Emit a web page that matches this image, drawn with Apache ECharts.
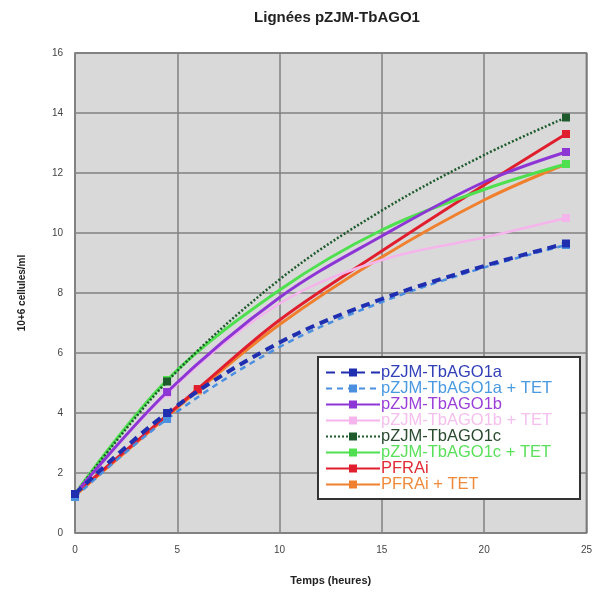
<!DOCTYPE html>
<html>
<head>
<meta charset="utf-8">
<script src="https://cdn.jsdelivr.net/npm/echarts@6/dist/echarts.min.js"></script>
<style>html,body{margin:0;padding:0;background:#fff}#c{width:595px;height:594px}</style>
</head>
<body>
<div id="c"></div>
<script>
const seriesNames = ["pZJM-TbAGO1a","pZJM-TbAGO1a + TET","pZJM-TbAGO1b","pZJM-TbAGO1b + TET","pZJM-TbAGO1c","pZJM-TbAGO1c + TET","PFRAi","PFRAi + TET"];
// [time (h), 10^6 cells/ml, measured?]
const dataA    = [[0,1.3,1],[4.5,4.0,1],[10,6.35,0],[15,7.8,0],[20,8.9,0],[24,9.65,1]];
const dataATet = [[0,1.2,1],[4.5,3.8,1],[10,6.2,0],[15,7.7,0],[20,8.85,0],[24,9.6,1]];
const dataB    = [[0,1.3,1],[4.5,4.7,1],[10,7.85,0],[15,9.9,0],[20,11.7,0],[24,12.7,1]];
const dataBTet = [[0,1.3,1],[4.5,4.65,1],[10,7.65,0],[15,9.1,0],[20,9.85,0],[24,10.5,1]];
const dataC    = [[0,1.3,1],[4.5,5.05,1],[10,8.45,0],[15,10.75,0],[20,12.6,0],[24,13.85,1]];
const dataCTet = [[0,1.3,1],[4.5,5.1,1],[10,8.1,0],[15,10.1,0],[20,11.45,0],[24,12.3,1]];
const dataP    = [[0,1.3,1],[6,4.8,1],[10,7.1,0],[15,9.4,0],[20,11.6,0],[24,13.3,1]];
const dataPTet = [[0,1.25,1],[6,4.75,1],[10,6.95,0],[15,9.2,0],[20,11.1,0],[24,12.3,1]];
const xTicks = [0,5,10,15,20,25];
const yTicks = [0,2,4,6,8,10,12,14,16];

const allData = [dataA,dataATet,dataB,dataBTet,dataC,dataCTet,dataP,dataPTet];
const colors = ['#1f2fb0','#4a8fe0','#8e35d6','#f5b5ec','#1d5a2c','#4fe04f','#e01e2e','#f0802e'];
const textColors = ['#3240b8','#4a9ae0','#9a40d8','#f5c0ee','#2a4a30','#5ae05a','#e02a35','#f08a3a'];
const lineTypes = [[9,6],[6,5],'solid','solid',[2,2],'solid','solid','solid'];
const widths = [4,2.5,3,2.5,2.5,3,3,3];

const series = allData.map((d,i)=>({
  name: seriesNames[i],
  type:'line',
  smooth:0.35,
  showAllSymbol:true,
  symbol:'rect',
  symbolSize:8,
  z: 10-i,
  data: d.map(p=>({value:[p[0],p[1]], symbol: p[2]?'rect':'none'})),
  lineStyle:{color:colors[i],width:widths[i],type:lineTypes[i]},
  itemStyle:{color:colors[i]},
  emphasis:{disabled:true}
}));

const chart = echarts.init(document.getElementById('c'),null,{renderer:'canvas'});
chart.setOption({
  animation:false,
  backgroundColor:'#fff',
  title:{text:'Lignées pZJM-TbAGO1',left:332,top:5,textAlign:'center',
    textStyle:{fontFamily:'Liberation Sans, Arial',fontWeight:'bold',fontSize:15,color:'#222'}},
  grid:{left:75,right:6,top:53,bottom:61,show:true,backgroundColor:'#d9d9d9',borderColor:'#666',borderWidth:1.5},
  xAxis:{type:'value',min:0,max:25,interval:5,
    name:'Temps (heures)',nameLocation:'middle',nameGap:42,
    nameTextStyle:{fontFamily:'Liberation Sans, Arial',fontWeight:'bold',fontSize:11,color:'#222'},
    axisLine:{show:false},axisTick:{show:false},
    axisLabel:{fontFamily:'Liberation Sans, Arial',fontSize:10,color:'#444',margin:12},
    splitLine:{lineStyle:{color:'#808080',width:1.5}}},
  yAxis:{type:'value',min:0,max:16,interval:2,
    name:'10+6 cellules/ml',nameLocation:'middle',nameGap:48,
    nameTextStyle:{fontFamily:'Liberation Sans, Arial',fontWeight:'bold',fontSize:10,color:'#222'},
    axisLine:{show:false},axisTick:{show:false},
    axisLabel:{fontFamily:'Liberation Sans, Arial',fontSize:10,color:'#444',margin:12},
    splitLine:{lineStyle:{color:'#808080',width:1.5}}},
  legend:{orient:'vertical',left:318,top:357,
    backgroundColor:'#fff',borderColor:'#333',borderWidth:2,padding:[7,28,6,7],
    itemWidth:54,itemHeight:10,itemGap:-1,
    data: seriesNames.map((n,i)=>({name:n,textStyle:{color:textColors[i]}})),
    textStyle:{fontFamily:'Liberation Sans, Arial',fontSize:16.5,lineHeight:14,padding:[0,0,0,-4]}},
  series: series
});
</script>
</body>
</html>
